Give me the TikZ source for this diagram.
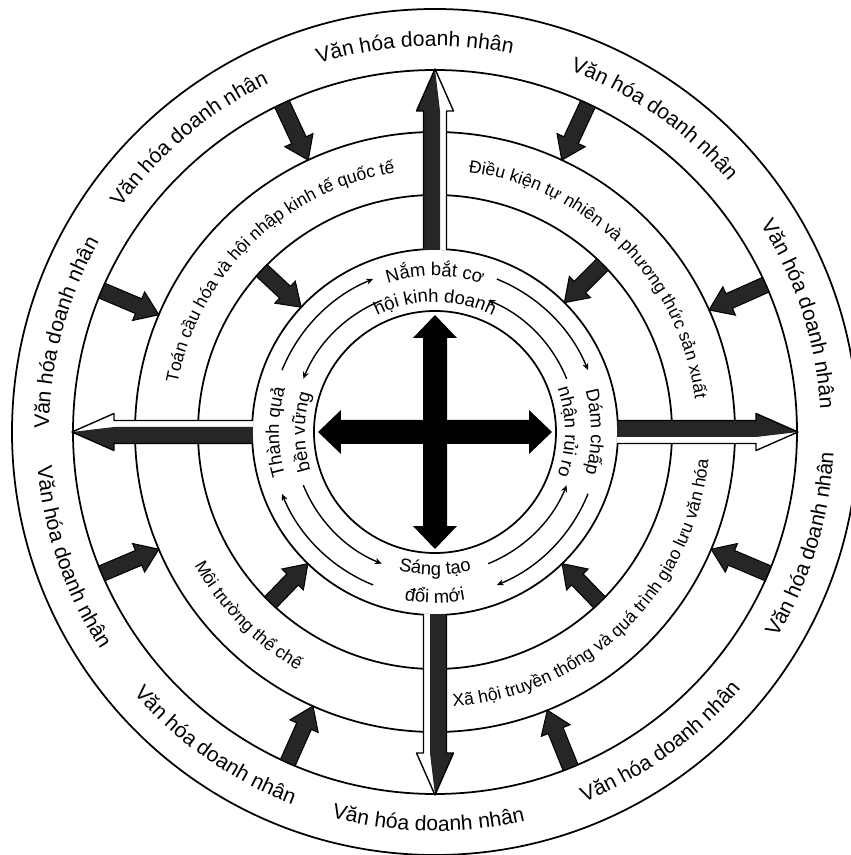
\documentclass[tikz,border=0pt]{standalone}
\usepackage{fontspec}
\setmainfont{Liberation Sans}
\usetikzlibrary{arrows.meta, decorations.text}

\newcommand{\rimfont}{\fontsize{12}{14}\selectfont}
\newcommand{\beltfont}{\fontsize{10}{12}\selectfont}
\newcommand{\corefont}{\fontsize{10.5}{12}\selectfont}

\begin{document}
\begin{tikzpicture}[
      x=0.02cm, y=0.02cm,
      >={Stealth[length=4pt, width=3.5pt]},
      ring/.style={line width=1pt},
      turn/.style={line width=0.8pt, ->},
      push/.style={draw=black, line width=0.6pt, fill=black!85},
      rim text/.style={decorate, decoration={text along path, text align=center, text={|\rimfont|#1}}},
      belt text/.style={decorate, decoration={text along path, text align=center, text={|\beltfont|#1}}},
      core text/.style={decorate, decoration={text along path, text align=center, text={|\corefont|#1}}},
      spoke/.pic={
        \fill[white] (-11.5,182) -- (-11.5,321) -- (-18.5,321) -- (0,363) -- (18.5,321) -- (11.5,321) -- (11.5,182) -- cycle;
        \fill[black!85] (-11.5,182) -- (-11.5,321) -- (-18.5,321) -- (0,363) -- (5,321) -- (5,182) -- cycle;
        \draw[line width=0.8pt, line join=round] (-11.5,182) -- (-11.5,321) -- (-18.5,321) -- (0,363) -- (18.5,321) -- (11.5,321) -- (11.5,182);
      },
    ]

    \useasboundingbox (-435,-423) rectangle (416,432);
    \coordinate (o) at (0,0);

    % rings
    \foreach \r in {423,362,300,237,183,121}
      \draw[ring] (o) circle (\r);

    % long arrows to the rim
    \foreach \t in {0,90,180,270}
      \pic[rotate=\t] at (o) {spoke};

    % small arrows pointing inwards
    \foreach \a in {24,65,115,157,203,246,292,337}
      \draw[push, rotate=\a] (362,-8) -- (322,-8) -- (322,-15.5) -- (300,0) -- (322,15.5) -- (322,8) -- (362,8) -- cycle;
    \foreach \a in {45,137,226,314}
      \draw[push, rotate=\a] (237,-8) -- (205,-8) -- (205,-15) -- (183,0) -- (205,15) -- (205,8) -- (237,8) -- cycle;

    % cross in the middle
    \foreach \a in {0,90,180,270}
      \fill[rotate=\a] (0,-12) -- (94,-12) -- (94,-22) -- (117,0) -- (94,22) -- (94,12) -- (0,12) -- cycle;

    % thin arcs between the core labels
    \foreach \q in {0,90,180,270} {
      \draw[turn] (\q+68:165) arc[start angle=\q+68, end angle=\q+22, radius=165];
      \draw[turn] (\q+22:142) arc[start angle=\q+22, end angle=\q+68, radius=142];
    }

    % outer ring labels
    \foreach \a in {93,55,18,165,130}
      \path[rim text={Văn hóa doanh nhân}] (\a+25:386) arc[start angle=\a+25, end angle=\a-25, radius=386];
    \foreach \a in {-17,-54,-91,-125,-161}
      \path[rim text={Văn hóa doanh nhân}] (\a-25:399) arc[start angle=\a-25, end angle=\a+25, radius=399];

    % middle ring labels
    \path[belt text={Toán cầu hóa và hội nhập kinh tế quốc tế}] (175:262) arc[start angle=175, end angle=93, radius=262];
    \path[belt text={Điều kiện tự nhiên và phương thức sản xuất}] (86:262) arc[start angle=86, end angle=4, radius=262];
    \path[belt text={Xã hội truyền thống và quá trình giao lưu văn hóa}] (-92:275) arc[start angle=-92, end angle=0, radius=275];
    \path[belt text={Môi trường thể chế}] (200:275) arc[start angle=200, end angle=249, radius=275];

    % inner ring labels
    \path[core text={Nắm bắt cơ}] (130:156) arc[start angle=130, end angle=50, radius=156];
    \path[core text={hội kinh doanh}] (135:130) arc[start angle=135, end angle=45, radius=130];
    \path[core text={Dám chấp}] (40:156) arc[start angle=40, end angle=-40, radius=156];
    \path[core text={nhận rủi ro}] (45:130) arc[start angle=45, end angle=-45, radius=130];
    \path[core text={Thành quả}] (220:156) arc[start angle=220, end angle=140, radius=156];
    \path[core text={bền vững}] (225:130) arc[start angle=225, end angle=135, radius=130];
    \path[core text={Sáng tạo}] (230:143) arc[start angle=230, end angle=310, radius=143];
    \path[core text={đổi mới}] (235:171) arc[start angle=235, end angle=305, radius=171];

  \end{tikzpicture}
\end{document}
